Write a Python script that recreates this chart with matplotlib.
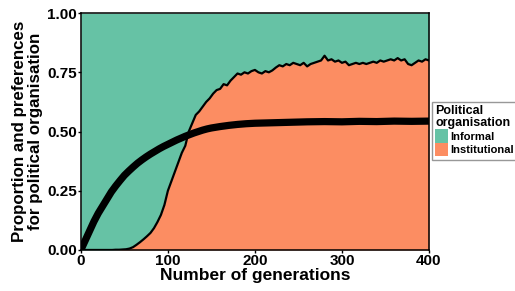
import matplotlib
matplotlib.use("Agg")
import matplotlib.pyplot as plt
from matplotlib.patches import Patch
import numpy as np

plt.rcParams['font.family'] = ['Liberation Sans', 'DejaVu Sans']
plt.rcParams['font.weight'] = 'bold'

# Proportion of institutional organisation (noisy simulation curve)
gen_inst = list(range(0, 404, 4))
prop_inst = [0, 0, 0, 0, 0, 0, 0, 0, 0, 0,
             0.001, 0.001, 0.002, 0.003, 0.006, 0.012, 0.022, 0.033, 0.045, 0.058,
             0.072, 0.092, 0.118, 0.148, 0.19, 0.25, 0.29, 0.33, 0.37, 0.41,
             0.44, 0.50, 0.535, 0.57, 0.585, 0.605, 0.625, 0.64, 0.66, 0.675,
             0.68, 0.70, 0.695, 0.715, 0.73, 0.745, 0.74, 0.75, 0.745, 0.755,
             0.76, 0.75, 0.745, 0.755, 0.75, 0.758, 0.77, 0.78, 0.775, 0.785,
             0.78, 0.79, 0.785, 0.78, 0.79, 0.775, 0.785, 0.79, 0.795, 0.80,
             0.82, 0.80, 0.805, 0.795, 0.80, 0.79, 0.795, 0.78, 0.785, 0.79,
             0.785, 0.79, 0.785, 0.79, 0.795, 0.79, 0.80, 0.795, 0.80, 0.805,
             0.80, 0.81, 0.80, 0.805, 0.785, 0.78, 0.79, 0.80, 0.795, 0.805,
             0.80]

# Mean preference for institutional organisation (thick line)
gen_pref = [0, 5, 10, 15, 20, 25, 30, 35, 40, 45, 50, 55, 60, 65, 70, 75, 80, 85, 90, 95,
            100, 105, 110, 115, 120, 125, 130, 135, 140, 145, 150, 160, 170, 180, 190, 200,
            220, 240, 260, 280, 300, 320, 340, 360, 380, 400]
pref = [0, 0.04, 0.08, 0.12, 0.155, 0.185, 0.215, 0.245, 0.27, 0.293, 0.315, 0.333, 0.35,
        0.366, 0.38, 0.393, 0.405, 0.416, 0.427, 0.437, 0.446, 0.455, 0.464, 0.472, 0.48,
        0.487, 0.494, 0.50, 0.506, 0.511, 0.515, 0.521, 0.526, 0.53, 0.533, 0.535,
        0.537, 0.539, 0.541, 0.542, 0.541, 0.543, 0.542, 0.544, 0.543, 0.544]

categories = ["Informal", "Institutional"]
colors = ["#66c2a5", "#fc8d62"]
xticks = [0, 100, 200, 300, 400]
yticks = [0.0, 0.25, 0.5, 0.75, 1.0]
ytick_labels = ["0.00", "0.25", "0.50", "0.75", "1.00"]

fig = plt.figure(figsize=(5.15, 2.91), dpi=100)
ax = fig.add_axes([0.157, 0.141, 0.676, 0.814])

gi = np.array(gen_inst)
pi = np.array(prop_inst)
ax.fill_between(gi, 0, pi, color=colors[1], lw=0)
ax.fill_between(gi, pi, 1, color=colors[0], lw=0)
ax.plot(gi, pi, color="black", lw=1.6)
ax.plot(gen_pref, pref, color="black", lw=5.2, solid_capstyle="butt")

ax.set_xlim(0, 400)
ax.set_ylim(0, 1)
ax.set_xticks(xticks)
ax.set_yticks(yticks)
ax.set_yticklabels(ytick_labels)
ax.tick_params(axis="both", labelsize=11, length=2.5, width=1, pad=0.5, colors="black")
for lab in ax.get_xticklabels() + ax.get_yticklabels():
    lab.set_fontweight("bold")
for s in ax.spines.values():
    s.set_linewidth(1.1)
    s.set_color("black")

ax.set_xlabel("Number of generations", fontsize=12.5, fontweight="bold", labelpad=0)
ax.set_ylabel("Proportion and preferences\nfor political organisation", fontsize=12.2,
              fontweight="bold", labelpad=3, linespacing=1.1)

handles = [Patch(facecolor=c, edgecolor="none") for c in colors]
leg = fig.legend(handles, categories, title="Political\norganisation",
                 loc="upper left", bbox_to_anchor=(0.838, 0.651), bbox_transform=fig.transFigure,
                 borderaxespad=0, prop={"size": 8, "weight": "bold"},
                 title_fontproperties={"size": 9, "weight": "bold"},
                 handlelength=1.1, handleheight=1.45, labelspacing=0.0, handletextpad=0.2,
                 borderpad=0.35, alignment="left", frameon=True, fancybox=False)
leg.get_frame().set_edgecolor("#7f7f7f")
leg.get_frame().set_linewidth(1.0)
leg.get_title().set_linespacing(1.0)

fig.savefig("out.png", dpi=100)
